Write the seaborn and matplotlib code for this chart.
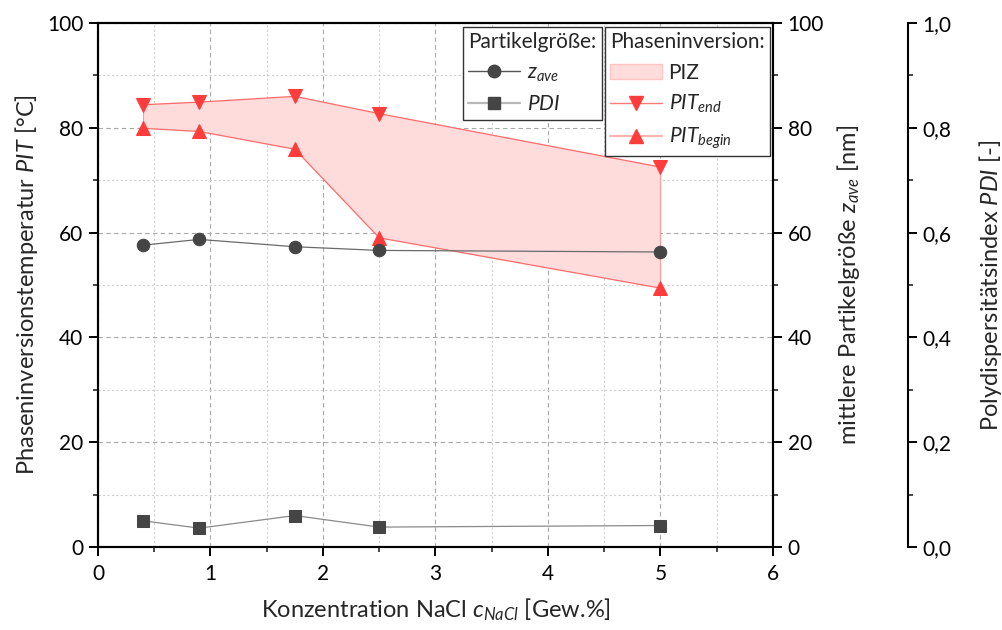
import matplotlib
matplotlib.use("Agg")
import matplotlib.pyplot as plt
import seaborn as sns
import numpy as np
import pandas as pd
from matplotlib.lines import Line2D
from matplotlib.patches import Patch
from matplotlib.ticker import MultipleLocator, FixedLocator, FuncFormatter

# ---- data ----
conc = [0.4, 0.9, 1.75, 2.5, 5.0]
pit_end = [84.4, 84.9, 86.0, 82.7, 72.5]
pit_begin = [79.9, 79.3, 75.9, 59.0, 49.4]
z_ave = [57.6, 58.7, 57.3, 56.6, 56.3]
pdi = [0.050, 0.036, 0.060, 0.038, 0.041]
x_ticks = [0, 1, 2, 3, 4, 5, 6]
y_ticks = [0, 20, 40, 60, 80, 100]
pdi_ticks = [0.0, 0.2, 0.4, 0.6, 0.8, 1.0]

sns.set_style("white")
plt.rcParams["font.family"] = ["Lato", "DejaVu Sans"]
plt.rcParams["mathtext.fontset"] = "custom"
plt.rcParams["mathtext.rm"] = "Lato"
plt.rcParams["mathtext.it"] = "Lato:italic"
plt.rcParams["mathtext.bf"] = "Lato:bold"

TICK_FS = 15
LAB_FS = 17
LEG_FS = 15

fig = plt.figure(figsize=(10.03, 6.3), dpi=100)
ax = fig.add_axes([98 / 1003, 1 - 547 / 630, 675 / 1003, 524 / 630])

# grid
ax.set_axisbelow(True)
ax.xaxis.set_major_locator(FixedLocator(x_ticks))
ax.xaxis.set_minor_locator(MultipleLocator(0.5))
ax.yaxis.set_major_locator(FixedLocator(y_ticks))
ax.yaxis.set_minor_locator(MultipleLocator(10))
ax.grid(which="major", color="#a8a8a8", linestyle=(0, (4, 3)), linewidth=0.8)
ax.grid(which="minor", color="#cfcfcf", linestyle=(0, (2, 2)), linewidth=0.8)

red = "#ff3c3c"
fill_c = "#ffdcdc"

ax.fill_between(conc, pit_begin, pit_end, facecolor=fill_c, edgecolor="none", zorder=1)
sns.lineplot(x=conc, y=pit_end, ax=ax, color="#ff6a6a", linewidth=0.9, marker="v",
             markersize=10, markerfacecolor=red, markeredgecolor=red, errorbar=None, zorder=3)
sns.lineplot(x=conc, y=pit_begin, ax=ax, color="#ff6a6a", linewidth=0.9, marker="^",
             markersize=10, markerfacecolor=red, markeredgecolor=red, errorbar=None, zorder=3)
ax.plot([conc[0], conc[0]], [pit_begin[0], pit_end[0]], color="#ff9a9a", lw=0.8, zorder=2)
ax.plot([conc[-1], conc[-1]], [pit_begin[-1], pit_end[-1]], color="#ff9a9a", lw=0.8, zorder=2)

ax.set_xlim(0, 6)
ax.set_ylim(0, 100)
ax.set_xlabel("Konzentration NaCl $c_{NaCl}$ [Gew.%]", fontsize=LAB_FS, labelpad=9)
ax.set_ylabel("Phaseninversionstemperatur $PIT$ [°C]", fontsize=LAB_FS, labelpad=5)

ax2 = ax.twinx()
sns.lineplot(x=conc, y=z_ave, ax=ax2, color="#6a6a6a", linewidth=0.9, marker="o",
             markersize=9, markerfacecolor="#454545", markeredgecolor="#454545", errorbar=None)
ax2.set_ylim(0, 100)
ax2.yaxis.set_major_locator(FixedLocator(y_ticks))
ax2.yaxis.set_minor_locator(MultipleLocator(10))
ax2.set_ylabel("mittlere Partikelgröße $z_{ave}$ [nm]", fontsize=LAB_FS, labelpad=8)

ax3 = ax.twinx()
ax3.spines["right"].set_position(("axes", (908 - 98) / 675))
for s in ["top", "bottom", "left"]:
    ax3.spines[s].set_visible(False)
sns.lineplot(x=conc, y=pdi, ax=ax3, color="#8a8a8a", linewidth=0.9, marker="s",
             markersize=8, markerfacecolor="#454545", markeredgecolor="#454545", errorbar=None)
ax3.set_ylim(0, 1.0)
ax3.yaxis.set_major_locator(FixedLocator(pdi_ticks))
ax3.yaxis.set_minor_locator(MultipleLocator(0.1))
ax3.yaxis.set_major_formatter(FuncFormatter(lambda v, p: f"{v:.1f}".replace(".", ",")))
ax3.set_ylabel("Polydispersitätsindex $PDI$ [-]", fontsize=LAB_FS, labelpad=18)

for a in (ax, ax2, ax3):
    for s in a.spines.values():
        s.set_linewidth(1.5)
        s.set_color("black")
    a.tick_params(which="major", direction="out", length=6.5, width=1.4, labelsize=TICK_FS,
                  colors="black", pad=4)
    a.tick_params(which="minor", direction="out", length=3.5, width=1.2)
ax.tick_params(axis="x", which="both", top=False, bottom=True)
ax.tick_params(axis="x", which="major", pad=6)
ax.tick_params(axis="y", which="both", left=True, right=False)
ax2.tick_params(axis="y", which="both", right=True, left=False)
ax3.tick_params(axis="y", which="both", right=True, left=False)
for a in (ax2, ax3):
    a.set_xlabel("")

# legends
h_z = Line2D([], [], color="#555555", lw=1, marker="o", ms=9, mfc="#454545", mec="#454545")
h_p = Line2D([], [], color="#b8b8b8", lw=1.6, marker="s", ms=8, mfc="#454545", mec="#454545")
h_piz = Patch(facecolor=fill_c, edgecolor="#ffc4c4")
h_end = Line2D([], [], color="#ff7a7a", lw=1, marker="v", ms=10, mfc=red, mec=red)
h_beg = Line2D([], [], color="#ffb4b4", lw=1.6, marker="^", ms=10, mfc=red, mec=red)

common = dict(loc="upper left", frameon=True, fancybox=False, framealpha=1,
              edgecolor="#333333", fontsize=LEG_FS, title_fontsize=LEG_FS,
              alignment="left", borderaxespad=0, handlelength=2.5,
              borderpad=0.25, labelspacing=0.5, handletextpad=0.3)
leg1 = fig.legend([h_z, h_p], ["$z_{ave}$", "$PDI$"], title="Partikelgröße:",
                  bbox_to_anchor=(463 / 1003, 1 - 27 / 630), **common)
leg2 = fig.legend([h_piz, h_end, h_beg], ["PIZ", "$PIT_{end}$", "$PIT_{begin}$"],
                  title="Phaseninversion:", bbox_to_anchor=(605 / 1003, 1 - 27 / 630), **common)
for lg in (leg1, leg2):
    lg.get_frame().set_linewidth(1.0)

fig.savefig("out.png", dpi=100)
